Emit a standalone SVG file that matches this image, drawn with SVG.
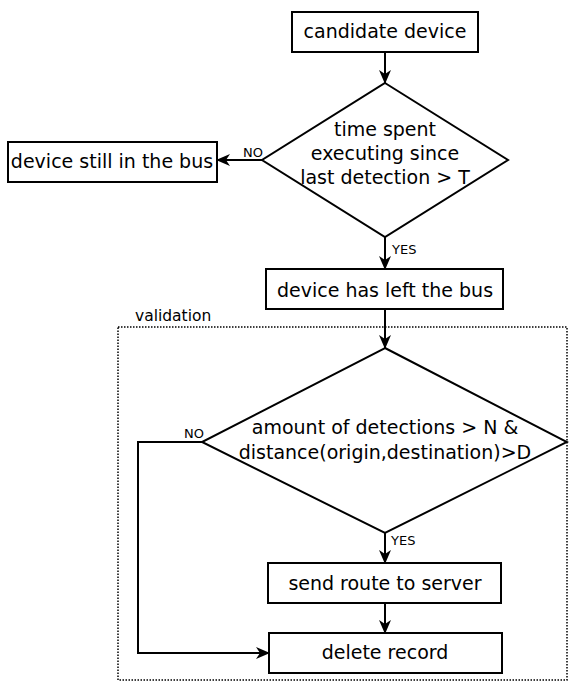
<svg xmlns="http://www.w3.org/2000/svg" width="569" height="684" viewBox="0 0 569 684">
  <style>
    .box { fill: #fff; stroke: #000; stroke-width: 2; }
    .lbl { font-family: "DejaVu Sans", Verdana, sans-serif; font-size: 19px; fill: #000; text-anchor: middle; }
    .small { font-family: "DejaVu Sans", Verdana, sans-serif; font-size: 13px; fill: #000; }
    .frame-title { font-family: "DejaVu Sans", Verdana, sans-serif; font-size: 15.5px; fill: #000; }
    .edge { fill: none; stroke: #000; stroke-width: 2; }
  </style>
  <defs>
    <marker id="arrow" viewBox="0 0 14 12" refX="13" refY="6" markerWidth="14" markerHeight="12" markerUnits="userSpaceOnUse" orient="auto">
      <path d="M0,0 L14,6 L0,12 L4,6 z" fill="#000"/>
    </marker>
  </defs>

  <rect x="0" y="0" width="569" height="684" fill="#fff"/>

  <!-- validation frame -->
  <g id="validation">
    <rect x="118" y="327" width="449" height="353" fill="none" stroke="#000" stroke-width="1.5" stroke-dasharray="1.5,1.5"/>
    <text class="frame-title" x="135" y="321">validation</text>
  </g>

  <g id="candidate">
    <rect class="box" x="292" y="12" width="186" height="40"/>
    <text class="lbl" x="385" y="38">candidate device</text>
  </g>

  <g id="decision-time">
    <polygon class="box" points="385,83 508,160 385,237 262,160"/>
    <text class="lbl" x="385" y="136">time spent</text>
    <text class="lbl" x="385" y="160">executing since</text>
    <text class="lbl" x="385" y="184">last detection &gt; T</text>
  </g>

  <g id="still-in-bus">
    <rect class="box" x="8" y="142" width="209" height="40"/>
    <text class="lbl" x="112" y="168">device still in the bus</text>
  </g>

  <g id="left-bus">
    <rect class="box" x="266" y="269" width="237" height="40"/>
    <text class="lbl" x="385" y="297">device has left the bus</text>
  </g>

  <g id="decision-route">
    <polygon class="box" points="385,348 567,442 385,533 202,442"/>
    <text class="lbl" x="385" y="434">amount of detections &gt; N &amp;</text>
    <text class="lbl" x="385" y="459">distance(origin,destination)&gt;D</text>
  </g>

  <g id="send-route">
    <rect class="box" x="268" y="563" width="233" height="40"/>
    <text class="lbl" x="385" y="590">send route to server</text>
  </g>

  <g id="delete-record">
    <rect class="box" x="269" y="633" width="233" height="40"/>
    <text class="lbl" x="385" y="659">delete record</text>
  </g>

  <g id="connectors">
    <line class="edge" x1="385" y1="52" x2="385" y2="83" marker-end="url(#arrow)"/>
    <line class="edge" x1="262" y1="160" x2="217" y2="160" marker-end="url(#arrow)"/>
    <text class="small" x="243" y="157">NO</text>
    <line class="edge" x1="385" y1="237" x2="385" y2="269" marker-end="url(#arrow)"/>
    <text class="small" x="392" y="254">YES</text>
    <line class="edge" x1="385" y1="309" x2="385" y2="348" marker-end="url(#arrow)"/>
    <polyline class="edge" points="202,442 138,442 138,653 269,653" marker-end="url(#arrow)"/>
    <text class="small" x="184" y="438">NO</text>
    <line class="edge" x1="385" y1="533" x2="385" y2="563" marker-end="url(#arrow)"/>
    <text class="small" x="391" y="545">YES</text>
    <line class="edge" x1="385" y1="603" x2="385" y2="633" marker-end="url(#arrow)"/>
  </g>
</svg>
